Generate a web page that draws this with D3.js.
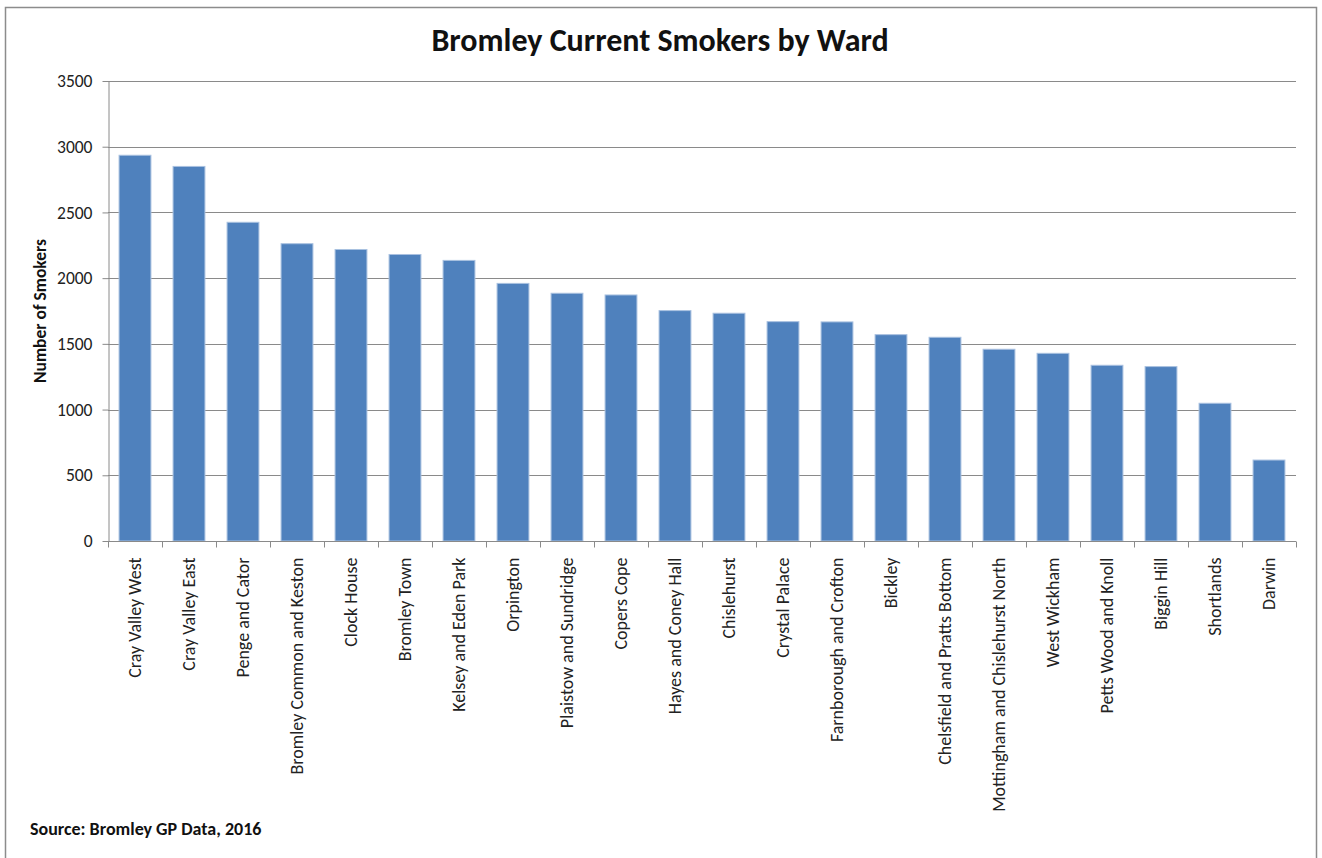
<!DOCTYPE html>
<html><head><meta charset="utf-8">
<script src="https://cdn.jsdelivr.net/npm/d3@7"></script>
<style>body{margin:0;background:#fff;} svg{display:block;}</style>
</head><body>
<svg id="chart" width="1322" height="858"></svg>
<script>
const wards = ["Cray Valley West","Cray Valley East","Penge and Cator","Bromley Common and Keston","Clock House","Bromley Town","Kelsey and Eden Park","Orpington","Plaistow and Sundridge","Copers Cope","Hayes and Coney Hall","Chislehurst","Crystal Palace","Farnborough and Crofton","Bickley","Chelsfield and Pratts Bottom","Mottingham and Chislehurst North","West Wickham","Petts Wood and Knoll","Biggin Hill","Shortlands","Darwin"];
const smokers = [2935,2850,2425,2262,2218,2180,2135,1960,1885,1872,1753,1733,1669,1667,1570,1550,1459,1428,1337,1327,1048,616];
const yTicks = [0,500,1000,1500,2000,2500,3000,3500];
const titleText = "Bromley Current Smokers by Ward";
const yTitle = "Number of Smokers";
const sourceText = "Source: Bromley GP Data, 2016";

(function(){
const svg = d3.select("#chart");
const font = "Calibri, Carlito, Lato, 'Liberation Sans', sans-serif";
const pL = 108, pR = 1296, pT = 81, pB = 541;

svg.append("path").attr("d","M5.5,870 V7.5 H1316.5 V870").attr("fill","none").attr("stroke","#8c8c8c").attr("stroke-width",1.5);

const x = d3.scaleBand().domain(wards).range([pL,pR]).paddingInner(0.41).paddingOuter(0.205);
const y = d3.scaleLinear().domain([0,3500]).range([pB,pT]);

svg.append("g").selectAll("line").data(yTicks.filter(d=>d>0)).join("line")
  .attr("x1",pL).attr("x2",pR).attr("y1",d=>Math.round(y(d))+0.5).attr("y2",d=>Math.round(y(d))+0.5)
  .attr("stroke","#8a8a8a").attr("stroke-width",1);

svg.append("g").selectAll("rect").data(wards).join("rect")
  .attr("x",d=>x(d)).attr("width",x.bandwidth())
  .attr("y",(d,i)=>y(smokers[i])).attr("height",(d,i)=>pB-y(smokers[i]))
  .attr("fill","#4f81bd").attr("stroke","#a9c1e0").attr("stroke-width",1);

const yAxis = d3.axisLeft(y).tickValues(yTicks).tickFormat(d3.format("d")).tickSize(6).tickPadding(10).tickSizeOuter(0);
const gy = svg.append("g").attr("transform",`translate(${pL+0.5},0)`).call(yAxis);
gy.selectAll("line, path").attr("stroke","#8a8a8a");
gy.selectAll("text").attr("font-family",font).attr("font-size",17.5).attr("fill","#222");

const xAxisG = svg.append("g").attr("transform",`translate(0,${pB+0.5})`);
xAxisG.append("line").attr("x1",pL).attr("x2",pR).attr("stroke","#8a8a8a");
const bounds = d3.range(wards.length+1).map(i=>pL + i*(pR-pL)/wards.length);
xAxisG.selectAll("line.tk").data(bounds).join("line").attr("class","tk")
  .attr("x1",d=>Math.round(d)+0.5).attr("x2",d=>Math.round(d)+0.5).attr("y1",0).attr("y2",6).attr("stroke","#8a8a8a");
xAxisG.selectAll("text").data(wards).join("text")
  .attr("transform",d=>`translate(${x(d)+x.bandwidth()/2+6},${16}) rotate(-90)`)
  .attr("text-anchor","end").attr("font-family",font).attr("font-size",18).attr("fill","#222")
  .text(d=>d);

svg.append("text").attr("x",660).attr("y",51).attr("text-anchor","middle")
  .attr("font-family",font).attr("font-weight","bold").attr("font-size",32).attr("fill","#111").text(titleText);
svg.append("text").attr("transform","translate(46,311) rotate(-90)").attr("text-anchor","middle")
  .attr("font-family",font).attr("font-weight","bold").attr("font-size",17.5).attr("fill","#111").text(yTitle);
svg.append("text").attr("x",30).attr("y",835)
  .attr("font-family",font).attr("font-weight","bold").attr("font-size",18).attr("fill","#111").text(sourceText);
})();
</script>
</body></html>
